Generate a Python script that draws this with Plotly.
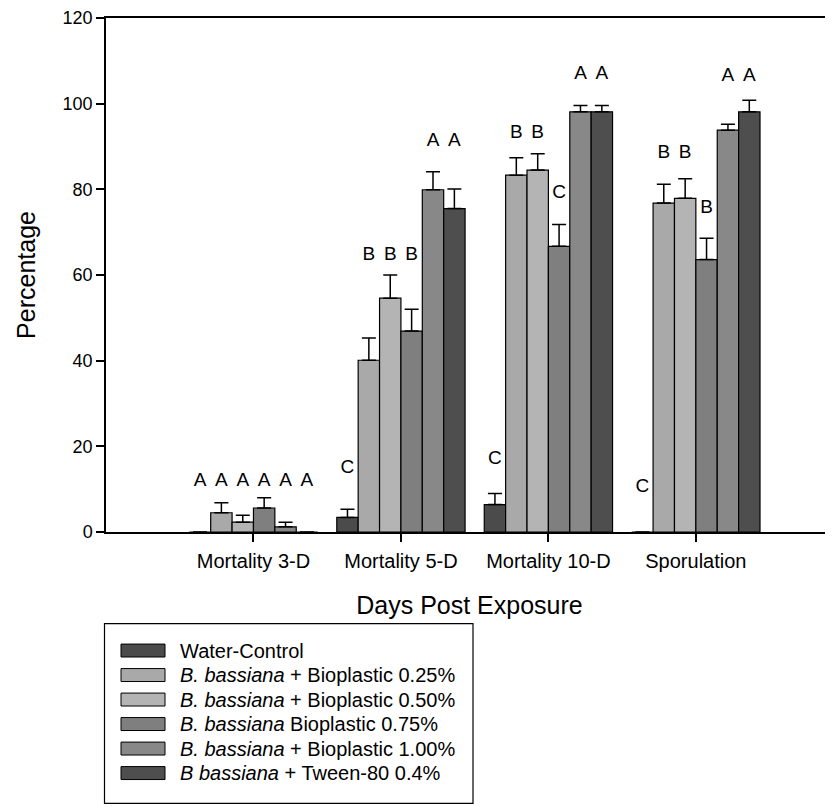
import plotly.graph_objects as go

categories = ["Mortality 3-D", "Mortality 5-D", "Mortality 10-D", "Sporulation"]

series_names = [
    "Water-Control",
    "<i>B. bassiana</i> + Bioplastic 0.25%",
    "<i>B. bassiana</i> + Bioplastic 0.50%",
    "<i>B. bassiana</i> Bioplastic 0.75%",
    "<i>B. bassiana</i> + Bioplastic 1.00%",
    "<i>B bassiana</i> + Tween-80 0.4%",
]

control_vals = [0.0, 3.4, 6.4, 0.0]
bio025_vals = [4.5, 40.1, 83.3, 76.8]
bio050_vals = [2.3, 54.6, 84.5, 77.9]
bio075_vals = [5.6, 46.9, 66.7, 63.6]
bio100_vals = [1.2, 79.9, 98.1, 93.8]
tween_vals = [0.0, 75.5, 98.1, 98.1]

control_err = [0.0, 1.9, 2.6, 0.0]
bio025_err = [2.3, 5.2, 4.1, 4.4]
bio050_err = [1.6, 5.4, 3.8, 4.6]
bio075_err = [2.4, 5.1, 5.1, 5.0]
bio100_err = [1.1, 4.2, 1.5, 1.4]
tween_err = [0.0, 4.6, 1.5, 2.7]

# significance letters and their heights
control_letters = ["A", "C", "C", "C"]
bio025_letters = ["A", "B", "B", "B"]
bio050_letters = ["A", "B", "B", "B"]
bio075_letters = ["A", "B", "C", "B"]
bio100_letters = ["A", "A", "A", "A"]
tween_letters = ["A", "A", "A", "A"]

control_letter_y = [11.8, 14.8, 17.1, 10.4]
bio025_letter_y = [11.8, 64.6, 93.2, 88.5]
bio050_letter_y = [11.8, 64.6, 93.2, 88.5]
bio075_letter_y = [11.8, 64.6, 79.2, 75.6]
bio100_letter_y = [11.8, 91.2, 106.9, 106.5]
tween_letter_y = [11.8, 91.2, 106.9, 106.5]

colors = ["#4b4b4b", "#a9a9a9", "#b4b4b4", "#7f7f7f", "#888888", "#4e4e4e"]

values = [control_vals, bio025_vals, bio050_vals, bio075_vals, bio100_vals, tween_vals]
errors = [control_err, bio025_err, bio050_err, bio075_err, bio100_err, tween_err]
letters = [control_letters, bio025_letters, bio050_letters, bio075_letters, bio100_letters, tween_letters]
letter_ys = [control_letter_y, bio025_letter_y, bio050_letter_y, bio075_letter_y, bio100_letter_y, tween_letter_y]

FONT = "Liberation Sans, Arial, Helvetica, sans-serif"
BARGAP = 0.13

fig = go.Figure()
for i, name in enumerate(series_names):
    fig.add_trace(go.Bar(
        x=categories, y=values[i], name=name, offsetgroup=str(i),
        marker=dict(color=colors[i], line=dict(color="black", width=1.2)),
        error_y=dict(type="data", array=errors[i], arrayminus=[0] * len(errors[i]),
                     symmetric=False, color="black", thickness=1.5, width=7),
        showlegend=False,
    ))
for i, name in enumerate(series_names):
    fig.add_trace(go.Scatter(
        x=categories, y=letter_ys[i], mode="text", text=letters[i],
        offsetgroup=str(i), textfont=dict(family=FONT, size=19, color="black"),
        showlegend=False, hoverinfo="skip",
    ))

# page has an 8px body margin; figure size/margins compensate for it
OFF = 8
W, H = 833 - OFF, 807 - OFF
PL, PR, PT, PB = 106 - OFF, 833 - OFF, 16 - OFF, 532 - OFF


def px_x(p):
    return (p - OFF - PL) / (PR - PL)


def px_y(p):
    return (PB - (p - OFF)) / (PB - PT)


shapes = [dict(type="rect", xref="paper", yref="paper",
               x0=px_x(104.5), x1=px_x(473), y0=px_y(804.5), y1=px_y(624),
               line=dict(color="black", width=1.2), fillcolor="white")]
annotations = []
row_y0 = 651
row_step = 24.6
for i, name in enumerate(series_names):
    cy = row_y0 + i * row_step
    shapes.append(dict(type="rect", xref="paper", yref="paper",
                       x0=px_x(121), x1=px_x(165), y0=px_y(cy + 6.5), y1=px_y(cy - 6.5),
                       line=dict(color="black", width=1), fillcolor=colors[i]))
    annotations.append(dict(xref="paper", yref="paper", x=px_x(178), y=px_y(cy),
                            xanchor="left", yanchor="middle", text=name, showarrow=False,
                            font=dict(family=FONT, size=20, color="black")))

fig.update_layout(
    width=W, height=H, autosize=False,
    margin=dict(l=PL, r=W - PR, t=PT, b=H - PB),
    paper_bgcolor="white", plot_bgcolor="white",
    barmode="group", bargap=BARGAP, bargroupgap=0,
    scattermode="group", scattergap=BARGAP,
    font=dict(family=FONT, color="black"),
    shapes=shapes, annotations=annotations,
    xaxis=dict(type="category", range=[-1, 3.93], showline=True, linecolor="black",
               linewidth=1.5, mirror=True, ticks="outside", ticklen=8, tickwidth=1.5,
               tickcolor="black", showgrid=False, tickfont=dict(size=20),
               ticklabelstandoff=2,
               title=dict(text="Days Post Exposure", font=dict(size=25), standoff=26)),
    yaxis=dict(range=[0, 120], dtick=20, showline=True, linecolor="black", linewidth=1.5,
               ticks="outside", ticklen=8, tickwidth=1.5, tickcolor="black",
               showgrid=False, zeroline=False, tickfont=dict(size=18),
               ticklabeloverflow="allow",
               title=dict(text="Percentage", font=dict(size=25), standoff=20)),
)

fig.write_html("out.html")
